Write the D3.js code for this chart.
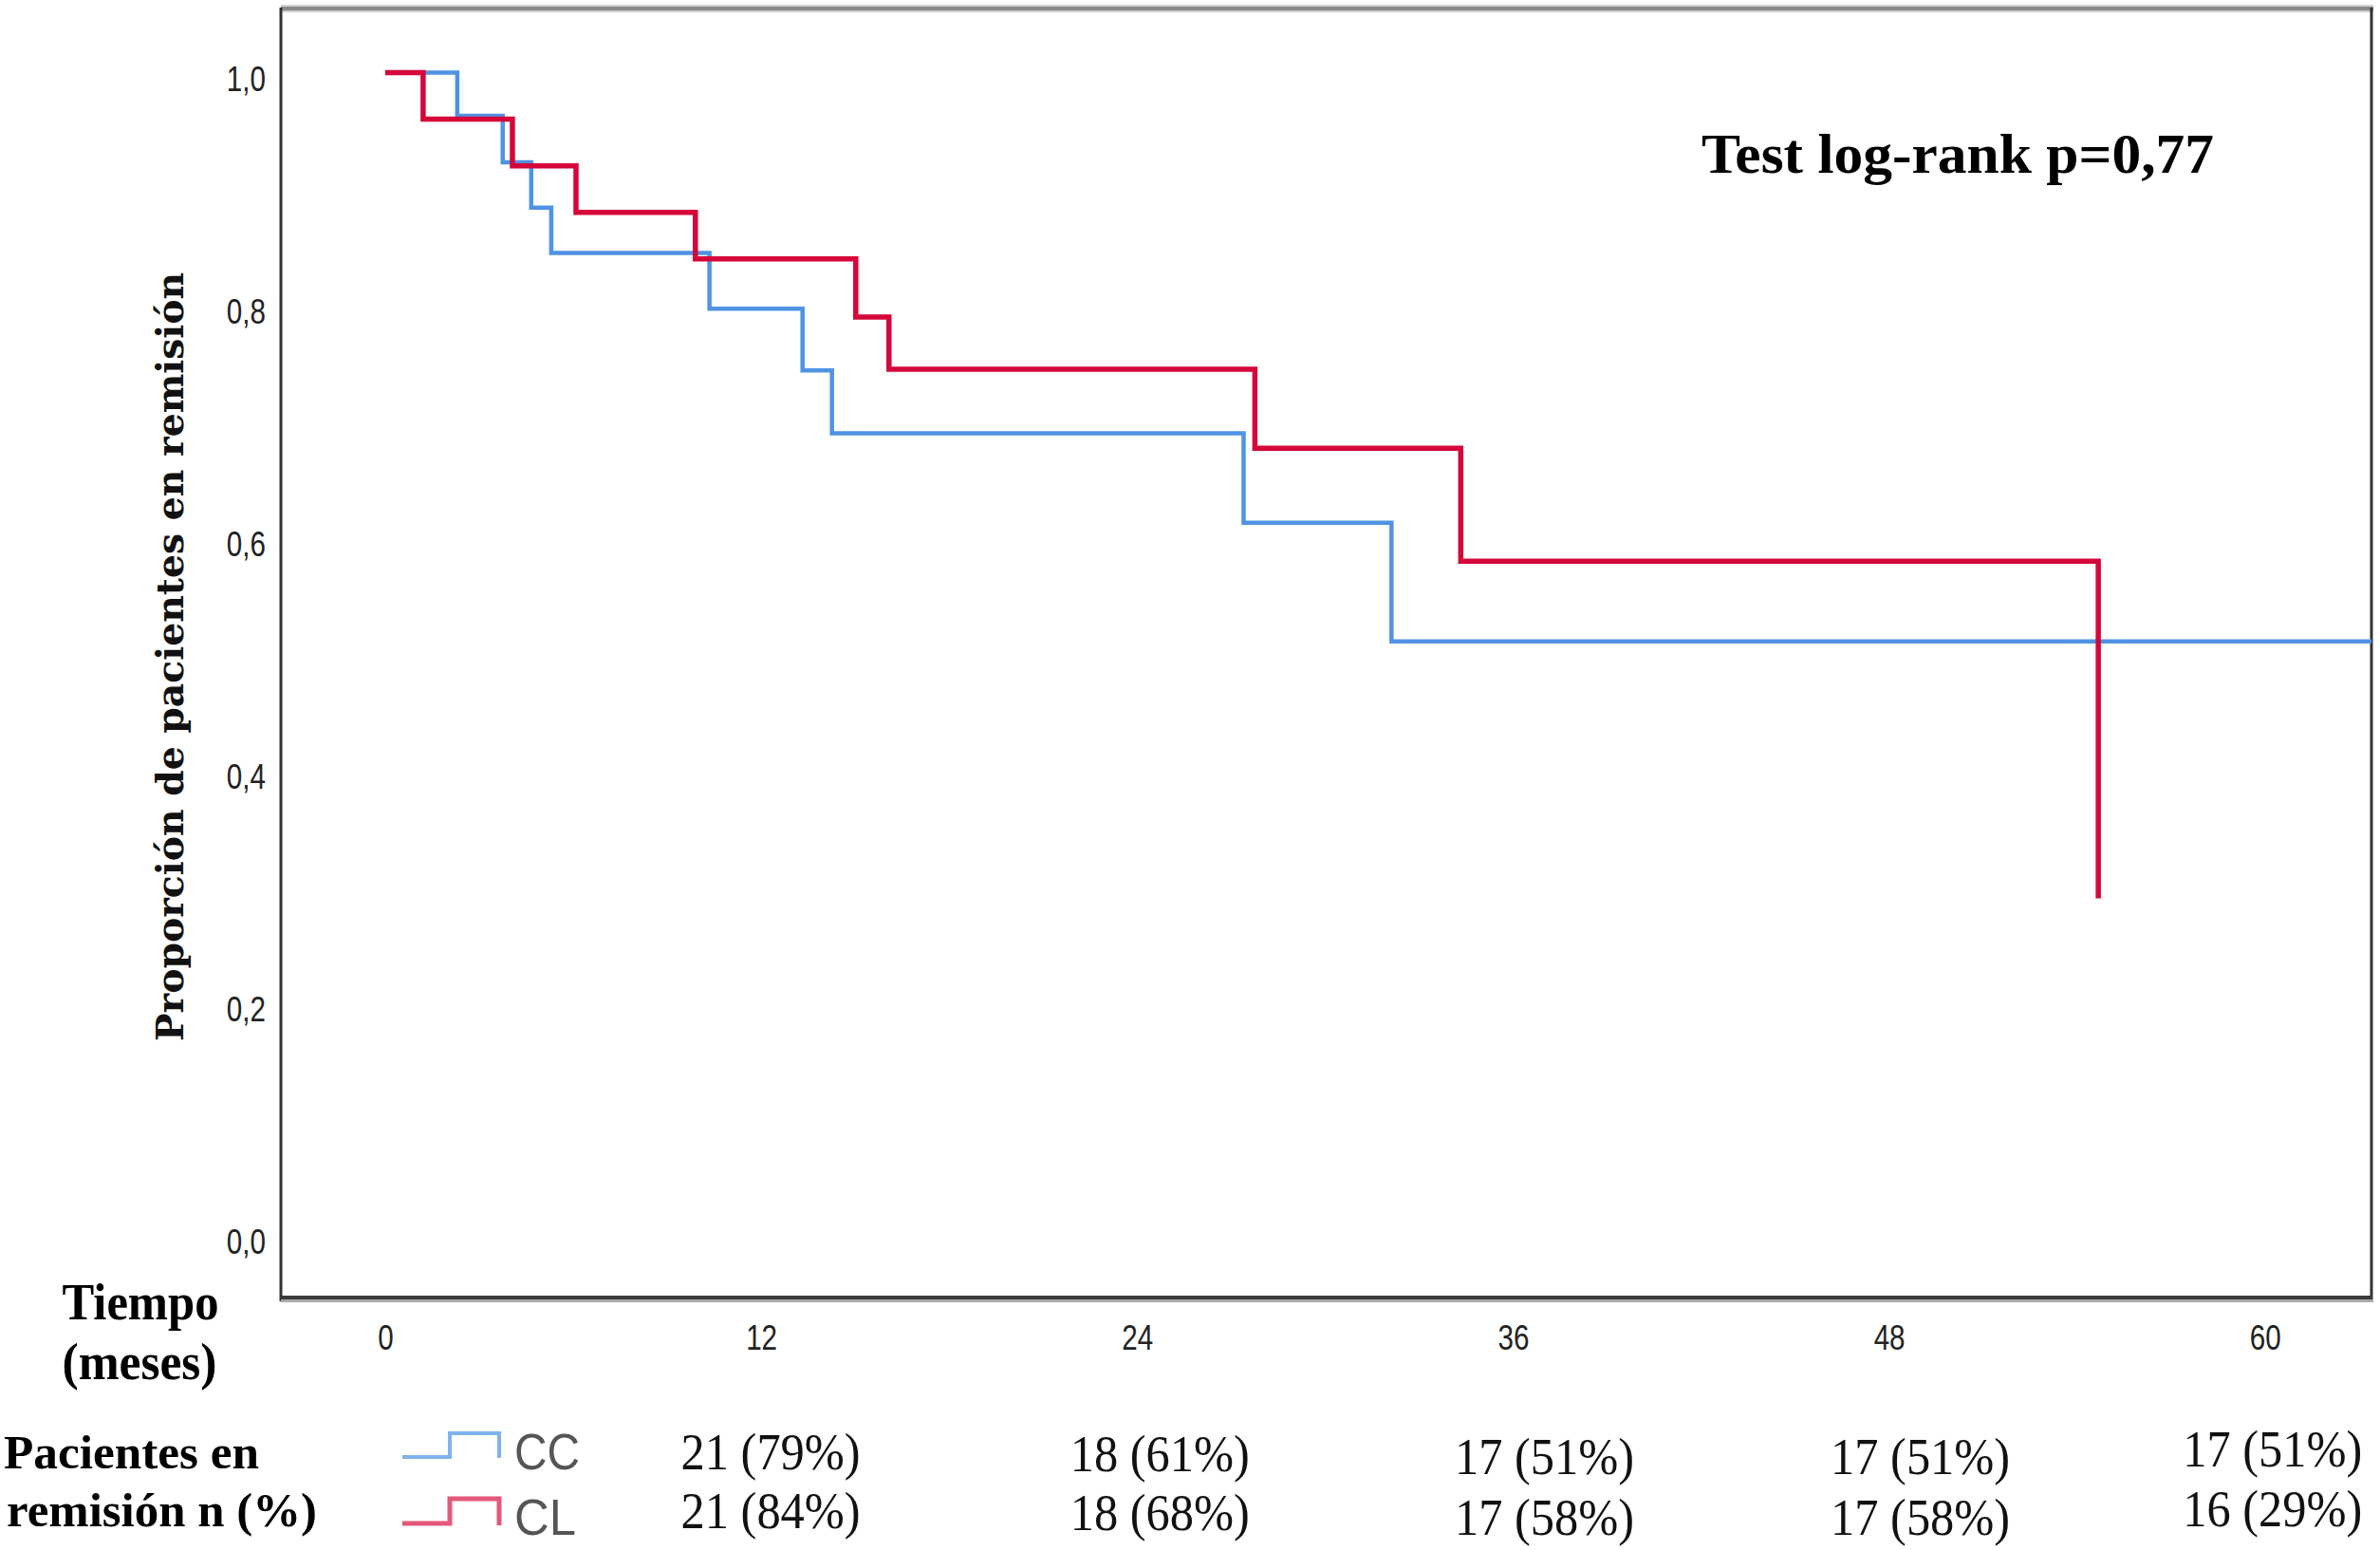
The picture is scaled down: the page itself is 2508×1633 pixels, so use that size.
<!DOCTYPE html>
<html>
<head>
<meta charset="utf-8">
<script src="https://cdn.jsdelivr.net/npm/d3@7"></script>
<style>
  html, body { margin: 0; padding: 0; background: #fff; }
  svg { display: block; }
</style>
</head>
<body>
<svg id="chart" width="2508" height="1633"></svg>
<script>
// ---------- data ----------
const ccTimes = [0, 2.3, 3.75, 4.66, 5.3, 10.35, 13.32, 14.26, 27.4, 32.12, 64];
const ccSurv  = [1, 0.963, 0.923, 0.884, 0.845, 0.797, 0.744, 0.69, 0.613, 0.511, 0.511];
const clTimes = [0, 1.21, 4.06, 6.09, 9.9, 15.02, 16.08, 27.76, 34.33, 54.68];
const clSurv  = [1, 0.96, 0.92, 0.88, 0.84, 0.79, 0.745, 0.677, 0.58, 0.29];
const xTicks = [0, 12, 24, 36, 48, 60];
const yTicks = [0, 0.2, 0.4, 0.6, 0.8, 1.0];
const riskTimes = [12, 24, 36, 48, 60];
const ccRisk = ["21 (79%)", "18 (61%)", "17 (51%)", "17 (51%)", "17 (51%)"];
const clRisk = ["21 (84%)", "18 (68%)", "17 (58%)", "17 (58%)", "16 (29%)"];
const groupNames = ["CC", "CL"];
const pText = "Test log-rank p=0,77";
const yTitle = "Proporción de pacientes en remisión";
const xTitle = ["Tiempo", "(meses)"];
const riskTitle = ["Pacientes en", "remisión n (%)"];

// ---------- layout ----------
const L = 296, R = 2499, T = 8, B = 1368;
const colors = { cc: "#4f93e4", cl: "#d5073a", ccLeg: "#7fb3ee", clLeg: "#e4587a" };
const riskDx = [10, 24, 33, 33, 8];
const row1Y = [1548, 1550, 1553, 1553, 1545];
const row2Y = [1610, 1612, 1617, 1617, 1608];
const tickScale = 0.8;

const svg = d3.select("#chart");
const x = d3.scaleLinear().domain([-3.33, 63.4]).range([L, R]);
const y = d3.scaleLinear().domain([-0.054, 1.056]).range([B, T]);

// clip
svg.append("defs").append("clipPath").attr("id", "plotclip")
  .append("rect").attr("x", L).attr("y", T).attr("width", R - L).attr("height", B - T);

// frame (SPSS style)
const frame = svg.append("g");
frame.append("line").attr("x1", L).attr("x2", R + 2).attr("y1", 6).attr("y2", 6)
  .attr("stroke", "#cfcfcf").attr("stroke-width", 2);
frame.append("line").attr("x1", L).attr("x2", R + 2).attr("y1", 12).attr("y2", 12)
  .attr("stroke", "#cfcfcf").attr("stroke-width", 2);
frame.append("line").attr("x1", L).attr("x2", R + 2).attr("y1", 9).attr("y2", 9)
  .attr("stroke", "#8a8a8a").attr("stroke-width", 4);
frame.append("line").attr("x1", L).attr("x2", L).attr("y1", T).attr("y2", B + 3)
  .attr("stroke", "#333").attr("stroke-width", 3);
frame.append("line").attr("x1", R).attr("x2", R).attr("y1", T).attr("y2", B + 3)
  .attr("stroke", "#333").attr("stroke-width", 3);
frame.append("line").attr("x1", L).attr("x2", R + 2).attr("y1", B + 2.5).attr("y2", B + 2.5)
  .attr("stroke", "#a8a8a8").attr("stroke-width", 3);
frame.append("line").attr("x1", L).attr("x2", R + 1).attr("y1", B - 1).attr("y2", B - 1)
  .attr("stroke", "#3a3a3a").attr("stroke-width", 4);

// axes
const xAxis = d3.axisBottom(x).tickValues(xTicks).tickSize(0).tickPadding(28)
  .tickFormat(d3.format("d"));
const gx = svg.append("g").attr("transform", `translate(0,${B})`).call(xAxis);
gx.select(".domain").remove();
gx.selectAll("text")
  .attr("font-family", "'Liberation Sans Narrow', 'Liberation Sans', Arial, sans-serif")
  .attr("font-size", 37).attr("fill", "#222")
  .attr("transform", `scale(${tickScale},1)`);

const yAxis = d3.axisLeft(y).tickValues(yTicks).tickSize(0).tickPadding(16)
  .tickFormat(d => d3.format(".1f")(d).replace(".", ","));
const gy = svg.append("g").attr("transform", `translate(${L},0)`).call(yAxis);
gy.select(".domain").remove();
gy.selectAll("text")
  .attr("font-family", "'Liberation Sans Narrow', 'Liberation Sans', Arial, sans-serif")
  .attr("font-size", 37).attr("fill", "#222")
  .attr("dy", "0.5em")
  .attr("x", -16 / tickScale)
  .attr("transform", `scale(${tickScale},1)`);

// curves
const line = d3.line().x(d => x(d[0])).y(d => y(d[1])).curve(d3.curveStepAfter);
const plot = svg.append("g").attr("clip-path", "url(#plotclip)");
plot.append("path").datum(d3.zip(ccTimes, ccSurv))
  .attr("d", line).attr("fill", "none").attr("stroke", colors.cc)
  .attr("stroke-width", 4.5).attr("stroke-linejoin", "miter");
plot.append("path").datum(d3.zip(clTimes, clSurv))
  .attr("d", line).attr("fill", "none").attr("stroke", colors.cl)
  .attr("stroke-width", 5.5).attr("stroke-linejoin", "miter");

// p-value annotation
svg.append("text").attr("x", 1793).attr("y", 182)
  .attr("font-family", "'Liberation Serif', 'Times New Roman', serif")
  .attr("font-weight", "bold").attr("font-size", 59)
  .attr("textLength", 540).attr("lengthAdjust", "spacingAndGlyphs")
  .attr("fill", "#000").text(pText);

// y title
svg.append("text").attr("transform", "translate(193,692) rotate(-90)")
  .attr("text-anchor", "middle")
  .attr("font-family", "'DejaVu Serif', serif").attr("font-weight", "bold")
  .attr("font-size", 40).attr("textLength", 810).attr("lengthAdjust", "spacingAndGlyphs")
  .attr("fill", "#111").text(yTitle);

// x title
const serif = "'Liberation Serif', 'Times New Roman', serif";
svg.append("text").attr("x", 148).attr("y", 1390).attr("text-anchor", "middle")
  .attr("font-family", serif).attr("font-weight", "bold").attr("font-size", 54)
  .attr("textLength", 165).attr("lengthAdjust", "spacingAndGlyphs").text(xTitle[0]);
svg.append("text").attr("x", 147).attr("y", 1453).attr("text-anchor", "middle")
  .attr("font-family", serif).attr("font-weight", "bold").attr("font-size", 54)
  .attr("textLength", 163).attr("lengthAdjust", "spacingAndGlyphs").text(xTitle[1]);

// risk table title
svg.append("text").attr("x", 4).attr("y", 1547)
  .attr("font-family", serif).attr("font-weight", "bold").attr("font-size", 50)
  .attr("textLength", 269).attr("lengthAdjust", "spacingAndGlyphs").text(riskTitle[0]);
svg.append("text").attr("x", 7).attr("y", 1608)
  .attr("font-family", serif).attr("font-weight", "bold").attr("font-size", 50)
  .attr("textLength", 327).attr("lengthAdjust", "spacingAndGlyphs").text(riskTitle[1]);

// legend icons
svg.append("path").attr("d", "M424,1535H474V1510H526V1536")
  .attr("fill", "none").attr("stroke", colors.ccLeg).attr("stroke-width", 4);
svg.append("path").attr("d", "M424,1605H474V1579H526V1607")
  .attr("fill", "none").attr("stroke", colors.clLeg).attr("stroke-width", 5);
svg.append("text").attr("x", 542).attr("y", 1548)
  .attr("font-family", "'Liberation Sans', Arial, sans-serif").attr("font-size", 54)
  .attr("fill", "#555").attr("textLength", 69).attr("lengthAdjust", "spacingAndGlyphs")
  .text(groupNames[0]);
svg.append("text").attr("x", 542).attr("y", 1617)
  .attr("font-family", "'Liberation Sans', Arial, sans-serif").attr("font-size", 54)
  .attr("fill", "#555").attr("textLength", 65).attr("lengthAdjust", "spacingAndGlyphs")
  .text(groupNames[1]);

// risk numbers
const risk = svg.append("g").attr("font-family", serif).attr("font-size", 55)
  .attr("fill", "#111").attr("text-anchor", "middle");
risk.selectAll("text.r1").data(ccRisk).join("text").attr("class", "r1")
  .attr("x", (d, i) => x(riskTimes[i]) + riskDx[i]).attr("y", (d, i) => row1Y[i])
  .attr("textLength", 189).attr("lengthAdjust", "spacingAndGlyphs").text(d => d);
risk.selectAll("text.r2").data(clRisk).join("text").attr("class", "r2")
  .attr("x", (d, i) => x(riskTimes[i]) + riskDx[i]).attr("y", (d, i) => row2Y[i])
  .attr("textLength", 189).attr("lengthAdjust", "spacingAndGlyphs").text(d => d);
</script>
</body>
</html>
